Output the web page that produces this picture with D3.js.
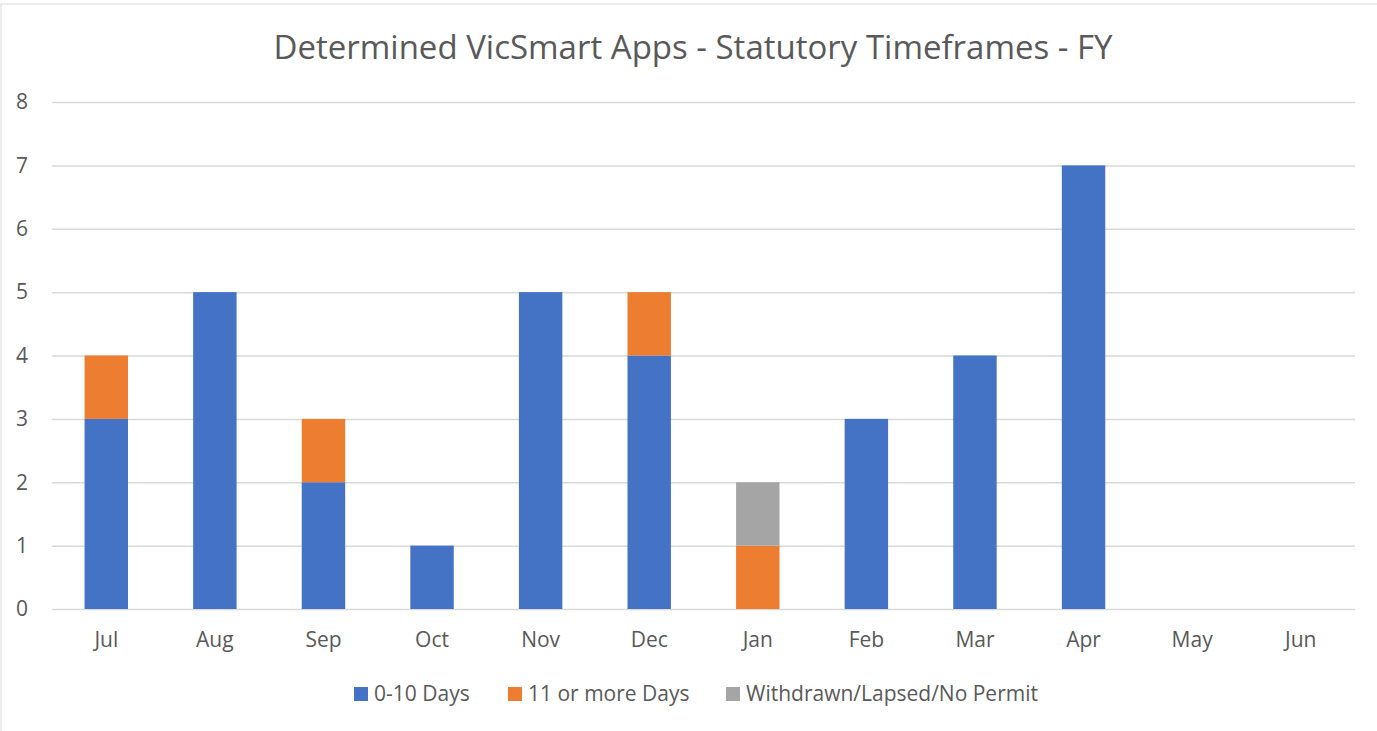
<!doctype html>
<html>
<head>
<style>
  body { margin: 0; background: #fff; font-family: 'Open Sans', sans-serif; }
  text { fill: #595959; }
  .grid line { stroke: #d9d9d9; stroke-width: 1.5; }
  .grid path { stroke-width: 0; }
</style>
<script src="https://d3js.org/d3.v7.min.js"></script>
</head>
<body>
<svg width="1377" height="731"></svg>
<script>
const months = ['Jul', 'Aug', 'Sep', 'Oct', 'Nov', 'Dec', 'Jan', 'Feb', 'Mar', 'Apr', 'May', 'Jun'];
const days0to10 = [3, 5, 2, 1, 5, 4, 0, 3, 4, 7, 0, 0];
const days11plus = [1, 0, 1, 0, 0, 1, 1, 0, 0, 0, 0, 0];
const withdrawn = [0, 0, 0, 0, 0, 0, 1, 0, 0, 0, 0, 0];
const yTicks = [0, 1, 2, 3, 4, 5, 6, 7, 8];
const seriesNames = ['0-10 Days', '11 or more Days', 'Withdrawn/Lapsed/No Permit'];
const colors = ['#4472c4', '#ed7d31', '#a5a5a5'];

const svg = d3.select('svg');

// chart frame
svg.append('rect')
  .attr('x', 1).attr('y', 4)
  .attr('width', 1400).attr('height', 760)
  .attr('fill', 'none').attr('stroke', '#d9d9d9');

const plotLeft = 52, plotRight = 1355, plotTop = 102, plotBottom = 609;

const x = d3.scaleBand().domain(months).range([plotLeft, plotRight]).paddingInner(0.6).paddingOuter(0.3);
const y = d3.scaleLinear().domain([0, 8]).range([plotBottom, plotTop]);

// gridlines
svg.append('g')
  .attr('class', 'grid')
  .attr('transform', `translate(${plotLeft},0)`)
  .call(d3.axisLeft(y).tickValues(yTicks).tickSize(-(plotRight - plotLeft)).tickFormat(''));

// y labels
svg.append('g').selectAll('text')
  .data(yTicks).enter().append('text')
  .attr('x', 22).attr('y', d => y(d))
  .attr('dy', '0.35em')
  .attr('text-anchor', 'middle')
  .style('font-size', '21px')
  .text(d => d);

// stacked data
const table = months.map((m, i) => ({ month: m, a: days0to10[i], b: days11plus[i], c: withdrawn[i] }));
const stacked = d3.stack().keys(['a', 'b', 'c'])(table);

svg.append('g').selectAll('g')
  .data(stacked).enter().append('g')
  .attr('fill', (d, i) => colors[i])
  .selectAll('rect')
  .data(d => d).enter().append('rect')
  .attr('x', d => x(d.data.month))
  .attr('y', d => y(d[1]))
  .attr('width', x.bandwidth())
  .attr('height', d => y(d[0]) - y(d[1]));

// x labels
svg.append('g').selectAll('text')
  .data(months).enter().append('text')
  .attr('x', d => x(d) + x.bandwidth() / 2)
  .attr('y', 640)
  .attr('dy', '0.35em')
  .attr('text-anchor', 'middle')
  .style('font-size', '21px')
  .text(d => d);

// title
svg.append('text')
  .attr('x', 693).attr('y', 47)
  .attr('dy', '0.35em')
  .attr('text-anchor', 'middle')
  .style('font-size', '33px')
  .text('Determined VicSmart Apps - Statutory Timeframes - FY');

// legend
const legendX = [354, 508, 726];
const legend = svg.append('g').selectAll('g')
  .data(seriesNames).enter().append('g')
  .attr('transform', (d, i) => `translate(${legendX[i]},694)`);
legend.append('rect')
  .attr('x', 0).attr('y', -7)
  .attr('width', 14).attr('height', 14)
  .attr('fill', (d, i) => colors[i]);
legend.append('text')
  .attr('x', 20).attr('dy', '0.35em')
  .style('font-size', '21px')
  .text(d => d);
</script>
</body>
</html>
